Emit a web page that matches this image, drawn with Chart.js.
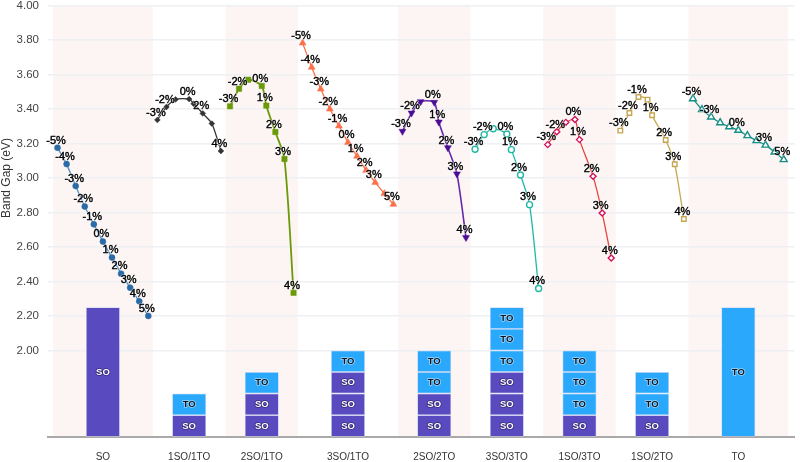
<!DOCTYPE html>
<html><head><meta charset="utf-8">
<style>html,body{margin:0;padding:0;background:#fff}#w{width:800px;height:462px}</style>
<script src="https://cdn.jsdelivr.net/npm/chart.js@4"></script></head>
<body><div id="w"><canvas id="c" width="800" height="462"></canvas></div>
<script>
// ---- data ----
const categories = ['SO','1SO/1TO','2SO/1TO','3SO/1TO','2SO/2TO','3SO/3TO','1SO/3TO','1SO/2TO','TO'];
const yTicks = [2.0,2.2,2.4,2.6,2.8,3.0,3.2,3.4,3.6,3.8,4.0];
const categoryCenters = [5,14.5,22.5,32,41.5,49.5,57.5,65.5,75];
const strainOrigins = [5,14,22,32,41,49,57,65,75];
const shadedBands = [[-0.5,10.5],[18.5,26.5],[37.5,45.5],[53.5,61.5],[69.5,80.5]];
const barFloor = 1.5, layerHeight = 0.125;
const stacks = [['SO*6'],['SO','TO'],['SO','SO','TO'],['SO','SO','SO','TO'],['SO','SO','TO','TO'],
                ['SO','SO','SO','TO','TO','TO'],['SO','TO','TO','TO'],['SO','TO','TO'],['TO*6']];

const strainFull = [-5,-4,-3,-2,-1,0,1,2,3,4,5];
const strainZeroShift = [-3,-2,-1,0.5,1,2,3,4];
const strainOneShift = [-3,-2,-1,0,0.5,2,3,4];

const gapSO     = [3.175,3.08,2.953,2.834,2.731,2.631,2.538,2.445,2.364,2.285,2.20];
const gap1S1T   = [3.336,3.411,3.455,3.457,3.43,3.374,3.315,3.156];
const gap2S1T   = [3.415,3.517,3.569,3.533,3.419,3.266,3.11,2.334];
const gap3S1T   = [3.782,3.641,3.515,3.399,3.301,3.206,3.125,3.044,2.974,2.909,2.847];
const gap2S2T   = [3.27,3.376,3.442,3.438,3.324,3.175,3.023,2.654];
const gap3S3T   = [3.166,3.251,3.285,3.255,3.164,3.017,2.845,2.359];
const gap1S3T   = [3.193,3.268,3.322,3.338,3.222,3.009,2.797,2.536];
const gap1S2T   = [3.274,3.376,3.469,3.454,3.363,3.22,3.079,2.762];
const gapTO     = [3.459,3.396,3.353,3.32,3.297,3.276,3.245,3.216,3.19,3.15,3.106];

const tagsSO   = ['-5%','-4%','-3%','-2%','-1%','0%','1%','2%','3%','4%','5%'];
const tags1S1T = ['-3%','-2%','','0%','','2%','','4%'];
const tags2S1T = ['-3%','-2%','','0%','1%','2%','3%','4%'];
const tags3S1T = ['-5%','-4%','-3%','-2%','-1%','0%','1%','2%','3%','','5%'];
const tagsMix  = ['-3%','-2%','','0%','1%','2%','3%','4%'];
const tags1S2T = ['-3%','-2%','-1%','','1%','2%','3%','4%'];
const tagsTO   = ['-5%','','-3%','','','0%','','','3%','','5%'];

// ---- build ----
const SO_COLOR='#5a4abf', TO_COLOR='#2aa8fb';
function seriesDs(k,strain,vals,tags,color,line,style,radius,open,rotation,width){
  return {type:'line',order:1,label:categories[k],
    data:vals.map((v,i)=>({x:strainOrigins[k]+strain[i],y:v})),
    tags:tags,borderColor:line,borderWidth:width||1.3,tension:0.25,
    pointStyle:style,pointRadius:radius,pointRotation:rotation||0,
    pointBackgroundColor:open?'#fff':color,pointBorderColor:color,pointBorderWidth:open?1.4:0.5};
}
const barSegs=[];
stacks.forEach((layers,k)=>{
  let base=barFloor;
  layers.forEach(l=>{
    const m=l.split('*'),n=m[1]?+m[1]:1,top=base+n*layerHeight;
    barSegs.push({x:categoryCenters[k],y:[base,top],name:m[0]});
    base=top;
  });
});
const barDs={type:'bar',order:2,label:'layers',data:barSegs,grouped:false,barThickness:34,
  backgroundColor:barSegs.map(s=>s.name==='SO'?SO_COLOR:TO_COLOR),
  borderColor:'#c9d4f4',borderWidth:0.7,borderSkipped:false,inflateAmount:0};

const datasets=[barDs,
  seriesDs(0,strainFull,gapSO,tagsSO,'#2a6aa6','#4c90cc','circle',3),
  seriesDs(1,strainZeroShift,gap1S1T,tags1S1T,'#333333','#333333','rectRot',2.9),
  seriesDs(2,strainZeroShift,gap2S1T,tags2S1T,'#6a9a08','#6a9a08','rect',3.8,false,0,1.8),
  seriesDs(3,strainFull,gap3S1T,tags3S1T,'#fb7048','#fb7048','triangle',4),
  seriesDs(4,strainZeroShift,gap2S2T,tagsMix,'#4a0e94','#6428ac','triangle',4,false,180,1.6),
  seriesDs(5,strainZeroShift,gap3S3T,tagsMix,'#22b8a6','#22b8a6','circle',3,true),
  seriesDs(6,strainOneShift,gap1S3T,tagsMix,'#d2125a','#e8433e','rectRot',3,true),
  seriesDs(7,strainOneShift,gap1S2T,tags1S2T,'#c6a650','#c6a650','rect',3.2,true),
  seriesDs(8,strainFull,gapTO,tagsTO,'#158f88','#158f88','triangle',4,true)
];

const marks={id:'marks',
  beforeDraw(ch){
    const {ctx,chartArea:a,scales:{x}}=ch;
    ctx.save();ctx.fillStyle='#fdf5f4';
    shadedBands.forEach(b=>{const l=x.getPixelForValue(b[0]),r=x.getPixelForValue(b[1]);ctx.fillRect(l,a.top,r-l,a.bottom-a.top);});
    ctx.restore();
  },
  afterDatasetsDraw(ch){
    const {ctx,chartArea:a}=ch;
    ctx.save();ctx.textAlign='center';ctx.textBaseline='middle';ctx.lineJoin='round';
    // bar layer names
    const barMeta=ch.getDatasetMeta(0);
    ctx.font='bold 9.5px "Liberation Sans"';
    barMeta.data.forEach((el,i)=>{
      const n=barSegs[i].name,mid=(el.y+el.base)/2;
      ctx.lineWidth=1.6;
      ctx.strokeStyle=n==='SO'?'rgba(40,30,90,.7)':'rgba(255,255,255,.55)';
      ctx.strokeText(n,el.x,mid);
      ctx.fillStyle=n==='SO'?'#fff':'#0c1420';
      ctx.fillText(n,el.x,mid);
    });
    // strain tags
    ctx.font='11px "Liberation Sans"';
    ch.data.datasets.forEach((d,di)=>{
      if(!d.tags)return;
      ch.getDatasetMeta(di).data.forEach((p,i)=>{
        if(!d.tags[i])return;
        const tx=p.x-1.5,ty=p.y-7.2;
        ctx.lineWidth=1.6;ctx.strokeStyle='rgba(255,255,255,.55)';
        ctx.strokeText(d.tags[i],tx,ty);
        ctx.lineWidth=0.4;ctx.strokeStyle='#000';
        ctx.strokeText(d.tags[i],tx,ty);
        ctx.fillStyle='#000';ctx.fillText(d.tags[i],tx,ty);
      });
    });
    ctx.restore();
    // y axis title
    ctx.save();ctx.translate(7,178);ctx.rotate(-Math.PI/2);
    ctx.textAlign='center';ctx.textBaseline='middle';
    ctx.font='12px "Liberation Sans"';ctx.fillStyle='#333';
    ctx.fillText('Band Gap (eV)',0,0);ctx.restore();
  }
};

new Chart(document.getElementById('c'),{
  data:{datasets},
  plugins:[marks],
  options:{responsive:false,animation:false,devicePixelRatio:1,
    layout:{padding:{top:5,left:0,right:0,bottom:0}},
    plugins:{legend:{display:false},tooltip:{enabled:false},title:{display:false}},
    scales:{
      x:{type:'linear',min:-1.05,max:81.2,offset:false,
        afterBuildTicks:s=>{s.ticks=categoryCenters.map(v=>({value:v}));},
        afterFit:s=>{s.height=25.3;s.paddingLeft=0;s.paddingRight=0;},
        grid:{display:false,drawTicks:false,offset:false},
        border:{display:true,color:'#a9a9a9',width:2},
        ticks:{autoSkip:false,maxRotation:0,minRotation:0,padding:15,color:'#333',
          font:{family:'Liberation Sans',size:10},
          callback:(v,i)=>categories[i]}},
      y:{type:'linear',min:1.5,max:4,
        afterBuildTicks:s=>{s.ticks=yTicks.map(v=>({value:v}));},
        afterFit:s=>{s.width=48;s.paddingTop=0;s.paddingBottom=0;},
        grid:{color:'#eef0f4',lineWidth:1.5,drawTicks:false},
        border:{display:false},
        ticks:{autoSkip:false,padding:9,color:'#444',
          font:{family:'Liberation Sans',size:11.5},
          callback:v=>v.toFixed(2)}}
    }
  }
});
</script></body></html>
